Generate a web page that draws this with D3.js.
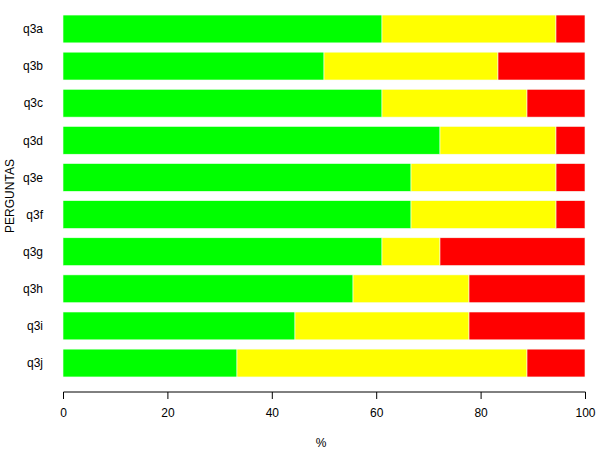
<!DOCTYPE html>
<html><head><meta charset="utf-8">
<script src="https://cdn.jsdelivr.net/npm/d3@7"></script>
<style>body{margin:0;background:#fff}svg{display:block}text{font-family:Arial,"Liberation Sans",sans-serif}</style>
</head><body>
<svg id="c" width="600" height="450"></svg>
<script>
const categories = ["q3a","q3b","q3c","q3d","q3e","q3f","q3g","q3h","q3i","q3j"];
const green  = [61.11, 50.00, 61.11, 72.22, 66.67, 66.67, 61.11, 55.56, 44.44, 33.33];
const yellow = [33.33, 33.33, 27.78, 22.22, 27.78, 27.78, 11.11, 22.22, 33.34, 55.56];
const red    = [ 5.56, 16.67, 11.11,  5.56,  5.55,  5.55, 27.78, 22.22, 22.22, 11.11];
const xTicks = [0, 20, 40, 60, 80, 100];
const seriesNames = ["green","yellow","red"];
const colors = ["#00ff00","#ffff00","#ff0000"];

const rows = categories.map((c,i)=>({cat:c, green:green[i], yellow:yellow[i], red:red[i]}));
const stack = d3.stack().keys(seriesNames)(rows);

const svg = d3.select("#c");
const x = d3.scaleLinear().domain([0,100]).range([63,585]);
const y = d3.scaleBand().domain(categories).range([10.4,381.6]).paddingInner(0.25).paddingOuter(0.125);

svg.append("g").selectAll("g").data(stack).join("g")
  .attr("fill",(d,i)=>colors[i])
  .selectAll("rect").data(d=>d).join("rect")
  .attr("x",d=>x(d[0]))
  .attr("width",d=>x(d[1])-x(d[0]))
  .attr("y",d=>y(d.data.cat))
  .attr("height",y.bandwidth())
  .attr("stroke","#f4fff4").attr("stroke-width",0.6);

// x axis
const xa = svg.append("g").attr("transform","translate(0,392)")
  .call(d3.axisBottom(x).tickValues(xTicks).tickSize(7).tickPadding(9).tickFormat(d3.format("d")));
xa.select(".domain").attr("stroke","#000").attr("d","M63.5,0H585.5");
xa.selectAll(".tick line").attr("stroke","#000");
xa.selectAll("text").attr("font-size",12).attr("fill","#000")
  .attr("font-family","Arial, 'Liberation Sans', sans-serif");

// y labels
svg.append("g").selectAll("text").data(categories).join("text")
  .attr("x",43).attr("y",d=>y(d)+y.bandwidth()/2)
  .attr("dy","0.35em").attr("text-anchor","end")
  .attr("font-size",12).text(d=>d);

svg.append("text").attr("x",321).attr("y",447).attr("text-anchor","middle")
  .attr("font-size",12).text("%");
svg.append("text").attr("transform","translate(14,196) rotate(-90)")
  .attr("text-anchor","middle").attr("font-size",12).text("PERGUNTAS");
</script>
</body></html>
